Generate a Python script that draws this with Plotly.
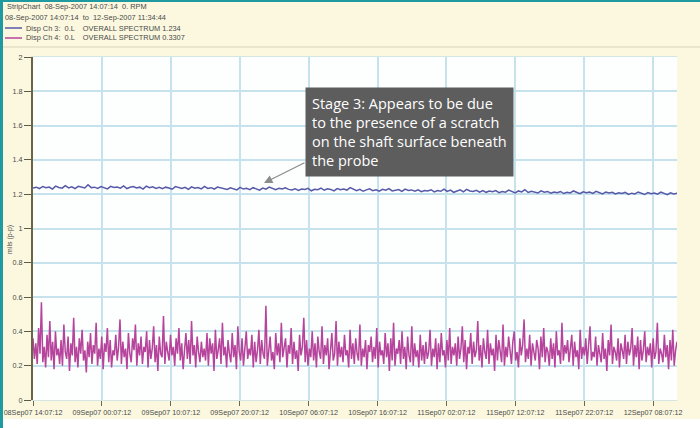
import pandas as pd
import plotly.graph_objects as go

# ---------------- data ----------------
start_time = "2007-09-08 14:07:12"
end_time = "2007-09-12 11:34:44"

ch3_values = [
    1.236,1.241,1.233,1.245,1.238,1.242,1.230,1.247,1.239,1.235,1.250,1.237,1.243,1.232,1.246,1.240,1.236,1.255,1.238,1.241,
    1.234,1.244,1.237,1.231,1.246,1.239,1.242,1.235,1.248,1.233,1.240,1.245,1.236,1.241,1.230,1.247,1.238,1.243,1.234,1.240,
    1.232,1.241,1.236,1.229,1.244,1.237,1.233,1.240,1.228,1.243,1.235,1.239,1.231,1.246,1.234,1.238,1.230,1.242,1.236,1.233,
    1.228,1.237,1.232,1.225,1.240,1.230,1.235,1.227,1.238,1.233,1.224,1.236,1.229,1.241,1.231,1.226,1.234,1.230,1.237,1.228,
    1.225,1.232,1.222,1.230,1.227,1.234,1.220,1.229,1.226,1.236,1.223,1.231,1.228,1.219,1.233,1.226,1.230,1.224,1.238,1.227,
    1.220,1.228,1.217,1.225,1.231,1.221,1.226,1.218,1.229,1.223,1.233,1.219,1.224,1.227,1.216,1.230,1.222,1.225,1.218,1.226,
    1.215,1.222,1.219,1.226,1.213,1.221,1.217,1.230,1.216,1.224,1.211,1.220,1.225,1.214,1.228,1.219,1.216,1.223,1.212,1.221,
    1.211,1.218,1.214,1.221,1.209,1.216,1.212,1.224,1.215,1.208,1.219,1.213,1.226,1.210,1.217,1.214,1.207,1.220,1.212,1.216,
    1.206,1.213,1.209,1.216,1.204,1.211,1.207,1.219,1.210,1.203,1.214,1.208,1.212,1.205,1.217,1.209,1.202,1.213,1.207,1.211,
    1.201,1.208,1.204,1.211,1.199,1.206,1.202,1.213,1.205,1.198,1.209,1.203,1.207,1.200,1.212,1.204,1.197,1.208,1.202,1.206,
]

ch4_values = [
    0.36,0.24,0.33,0.21,0.42,0.27,0.57,0.22,0.31,0.19,0.38,0.25,0.46,0.23,0.34,0.18,0.40,0.26,0.30,0.21,
    0.35,0.20,0.44,0.28,0.24,0.37,0.17,0.33,0.26,0.48,0.22,0.31,0.19,0.36,0.27,0.41,0.23,0.29,0.16,0.34,
    0.25,0.39,0.21,0.32,0.27,0.45,0.20,0.30,0.24,0.37,0.18,0.33,0.28,0.42,0.22,0.35,0.19,0.29,0.26,0.38,
    0.23,0.31,0.47,0.21,0.34,0.25,0.30,0.18,0.39,0.27,0.22,0.36,0.29,0.44,0.20,0.33,0.26,0.37,0.21,0.31,
    0.28,0.40,0.19,0.35,0.24,0.30,0.43,0.22,0.32,0.17,0.37,0.27,0.25,0.49,0.21,0.34,0.28,0.23,0.38,0.26,
    0.31,0.20,0.36,0.27,0.42,0.23,0.33,0.18,0.29,0.39,0.24,0.35,0.21,0.46,0.26,0.32,0.19,0.37,0.28,0.22,
    0.34,0.25,0.30,0.23,0.39,0.20,0.36,0.27,0.33,0.17,0.41,0.24,0.29,0.36,0.21,0.45,0.26,0.31,0.19,0.35,
    0.27,0.22,0.39,0.25,0.32,0.18,0.43,0.28,0.23,0.36,0.20,0.33,0.40,0.24,0.30,0.26,0.38,0.19,0.34,0.22,
    0.29,0.41,0.21,0.35,0.27,0.24,0.55,0.20,0.31,0.37,0.23,0.28,0.18,0.39,0.26,0.33,0.22,0.45,0.25,0.30,
    0.36,0.19,0.32,0.27,0.42,0.21,0.34,0.24,0.29,0.17,0.38,0.26,0.31,0.48,0.22,0.35,0.20,0.30,0.25,0.40,
    0.23,0.33,0.19,0.37,0.28,0.24,0.43,0.21,0.32,0.26,0.36,0.18,0.30,0.39,0.23,0.27,0.46,0.20,0.34,0.25,
    0.31,0.22,0.38,0.26,0.29,0.19,0.41,0.24,0.33,0.21,0.36,0.27,0.23,0.44,0.20,0.30,0.25,0.35,0.18,0.32,
    0.28,0.37,0.22,0.31,0.24,0.42,0.19,0.34,0.26,0.29,0.21,0.39,0.25,0.33,0.17,0.36,0.23,0.45,0.20,0.30,
    0.27,0.35,0.21,0.40,0.24,0.31,0.18,0.37,0.26,0.22,0.43,0.20,0.33,0.25,0.29,0.19,0.38,0.23,0.32,0.21,
    0.34,0.24,0.28,0.41,0.20,0.30,0.25,0.36,0.18,0.33,0.22,0.39,0.26,0.29,0.19,0.35,0.23,0.42,0.21,0.31,
    0.26,0.33,0.20,0.37,0.24,0.30,0.43,0.22,0.35,0.18,0.31,0.27,0.39,0.21,0.34,0.25,0.29,0.46,0.23,0.32,
    0.19,0.36,0.28,0.24,0.41,0.21,0.33,0.26,0.30,0.17,0.38,0.23,0.35,0.27,0.22,0.44,0.20,0.31,0.25,0.37,
    0.29,0.21,0.34,0.40,0.23,0.28,0.19,0.36,0.26,0.32,0.47,0.22,0.30,0.24,0.38,0.20,0.33,0.27,0.23,0.35,
    0.30,0.18,0.37,0.25,0.42,0.22,0.31,0.28,0.20,0.36,0.24,0.33,0.19,0.40,0.26,0.29,0.21,0.45,0.23,0.32,
    0.27,0.35,0.22,0.30,0.38,0.20,0.34,0.25,0.29,0.18,0.41,0.24,0.31,0.26,0.36,0.21,0.33,0.43,0.23,0.28,
    0.25,0.37,0.20,0.32,0.27,0.22,0.39,0.24,0.30,0.17,0.35,0.26,0.44,0.21,0.31,0.28,0.23,0.36,0.19,0.33,
    0.29,0.24,0.38,0.21,0.34,0.26,0.30,0.42,0.20,0.32,0.25,0.37,0.18,0.35,0.23,0.29,0.40,0.22,0.31,0.26,
    0.33,0.19,0.36,0.24,0.28,0.45,0.21,0.30,0.27,0.22,0.38,0.25,0.32,0.18,0.35,0.23,0.41,0.20,0.29,0.34,
]

tick_times = [
    "2007-09-08 14:07:12", "2007-09-09 00:07:12", "2007-09-09 10:07:12",
    "2007-09-09 20:07:12", "2007-09-10 06:07:12", "2007-09-10 16:07:12",
    "2007-09-11 02:07:12", "2007-09-11 12:07:12", "2007-09-11 22:07:12",
    "2007-09-12 08:07:12",
]
tick_labels = [
    "08Sep07 14:07:12", "09Sep07 00:07:12", "09Sep07 10:07:12",
    "09Sep07 20:07:12", "10Sep07 06:07:12", "10Sep07 16:07:12",
    "11Sep07 02:07:12", "11Sep07 12:07:12", "11Sep07 22:07:12",
    "12Sep07 08:07:12",
]
y_tick_vals = [0, 0.2, 0.4, 0.6, 0.8, 1, 1.2, 1.4, 1.6, 1.8, 2]
y_tick_text = ["0", "0.2", "0.4", "0.6", "0.8", "1", "1.2", "1.4", "1.6", "1.8", "2"]

header_lines = [
    "StripChart  08-Sep-2007 14:07:14  0. RPM",
    "08-Sep-2007 14:07:14  to  12-Sep-2007 11:34:44",
]
legend_labels = [
    "Disp Ch 3:  0.L    OVERALL SPECTRUM 1.234",
    "Disp Ch 4:  0.L    OVERALL SPECTRUM 0.3307",
]
note_text = ("Stage 3: Appears to be due<br>to the presence of a scratch"
             "<br>on the shaft surface beneath<br>the probe")

# ---------------- styling ----------------
W, H = 700, 428
L, R, T, B = 33, 23, 57, 28
PW, PH = W - L - R, H - T - B
BLUE = "#5659a8"
MAGENTA = "#b6449c"
CREAM = "#fbf8df"

def px(x):
    return (x - L) / PW

def py(y):
    return (H - B - y) / PH

t3 = pd.date_range(start_time, end_time, periods=len(ch3_values))
t4 = pd.date_range(start_time, end_time, periods=len(ch4_values))

fig = go.Figure()
fig.add_trace(go.Scatter(x=t4, y=ch4_values, mode="lines",
                         line=dict(color=MAGENTA, width=1.5), showlegend=False))
fig.add_trace(go.Scatter(x=t3, y=ch3_values, mode="lines",
                         line=dict(color=BLUE, width=1.5), showlegend=False))

fig.update_layout(
    width=W, height=H,
    margin=dict(l=L, r=R, t=T, b=B, pad=0, autoexpand=False),
    paper_bgcolor=CREAM,
    plot_bgcolor="#fdfefe",
    font=dict(family="Liberation Sans, Arial, sans-serif", size=7, color="#4a4a4a"),
    xaxis=dict(
        type="date", automargin=False,
        range=[start_time, end_time],
        tickvals=tick_times, ticktext=tick_labels,
        showgrid=True, gridcolor="#c6e2ec", gridwidth=1.5,
        ticks="outside", ticklen=5, tickcolor="#6a6a55", tickwidth=1,
        showline=True, linecolor="#d3e6e4", linewidth=1, mirror=True,
        zeroline=False, tickangle=0,
        tickfont=dict(size=7.2, color="#4a4a4a"),
    ),
    yaxis=dict(
        range=[0, 2], automargin=False,
        tickvals=y_tick_vals, ticktext=y_tick_text,
        showgrid=True, gridcolor="#c6e2ec", gridwidth=1.5,
        ticks="outside", ticklen=7, tickcolor="#5f5a40", tickwidth=1,
        showline=True, linecolor="#6a6448", linewidth=2,
        zeroline=False,
        tickfont=dict(size=7.2, color="#4a4a4a"),
    ),
)

shapes = [
    dict(type="rect", xref="paper", yref="paper", x0=px(0), x1=px(W), y0=py(H), y1=py(419),
         fillcolor="white", line=dict(width=0), layer="below"),
    dict(type="rect", xref="paper", yref="paper", x0=px(0), x1=px(3), y0=py(H), y1=py(0),
         fillcolor="#1f9aa0", line=dict(width=0)),
    dict(type="rect", xref="paper", yref="paper", x0=px(0), x1=px(W), y0=py(2), y1=py(0),
         fillcolor="#1f9aa0", line=dict(width=0)),
    dict(type="line", xref="paper", yref="paper", x0=px(3), x1=px(W), y0=py(47), y1=py(47),
         line=dict(color="#d9d1bb", width=1.2)),
    dict(type="line", xref="paper", yref="paper", x0=px(5), x1=px(22), y0=py(28), y1=py(28),
         line=dict(color=BLUE, width=1.5)),
    dict(type="line", xref="paper", yref="paper", x0=px(5), x1=px(22), y0=py(38), y1=py(38),
         line=dict(color=MAGENTA, width=1.5)),
]
fig.update_layout(shapes=shapes)

hdr_font = dict(size=7.4)
annotations = [
    dict(text=header_lines[0], xref="paper", yref="paper", x=px(5), y=py(7),
         xanchor="left", yanchor="middle", showarrow=False, font=hdr_font),
    dict(text=header_lines[1], xref="paper", yref="paper", x=px(3), y=py(17),
         xanchor="left", yanchor="middle", showarrow=False, font=hdr_font),
    dict(text=legend_labels[0], xref="paper", yref="paper", x=px(24), y=py(28),
         xanchor="left", yanchor="middle", showarrow=False, font=hdr_font),
    dict(text=legend_labels[1], xref="paper", yref="paper", x=px(24), y=py(38),
         xanchor="left", yanchor="middle", showarrow=False, font=hdr_font),
    dict(text="mils (p-p)", xref="paper", yref="paper", x=px(10), y=py(240),
         xanchor="center", yanchor="middle", textangle=-90, showarrow=False),
    dict(text="", xref="paper", yref="paper", x=px(264), y=py(183),
         ax=42, ay=-21, showarrow=True, arrowhead=2, arrowsize=1.3,
         arrowwidth=1.3, arrowcolor="#8c8c8c"),
    dict(text=note_text, xref="paper", yref="paper", x=px(305), y=py(87),
         xanchor="left", yanchor="top", align="left", showarrow=False,
         bgcolor="#5d5d5d", borderpad=6,
         font=dict(family="Open Sans, sans-serif", size=14.5, color="white")),
]
fig.update_layout(annotations=annotations)

fig.write_html("out.html",
               config={"displayModeBar": False},
               post_script="document.body.style.margin='0';document.body.style.overflow='hidden';")
